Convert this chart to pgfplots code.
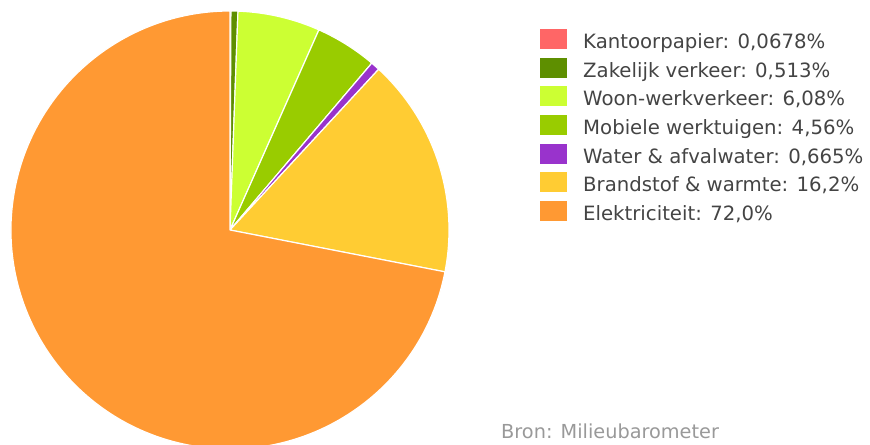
\documentclass[border=0pt]{standalone}
\usepackage{pgfplots}
\usepackage{pgfplotstable}
\pgfplotsset{compat=1.18}
\usepackage{fontspec}
\setmainfont{DejaVu Sans}

\definecolor{c0}{HTML}{FF6666}
\definecolor{c1}{HTML}{5E8F00}
\definecolor{c2}{HTML}{CCFF33}
\definecolor{c3}{HTML}{99CC00}
\definecolor{c4}{HTML}{9933CC}
\definecolor{c5}{HTML}{FFCC33}
\definecolor{c6}{HTML}{FF9933}
\definecolor{txt}{HTML}{444444}
\definecolor{src}{HTML}{999999}

\pgfplotstableread[col sep=semicolon]{
label;value;shown
Kantoorpapier;0.0678;0,0678\%
Zakelijk verkeer;0.513;0,513\%
Woon-werkverkeer;6.08;6,08\%
Mobiele werktuigen;4.56;4,56\%
Water \& afvalwater;0.665;0,665\%
Brandstof \& warmte;16.2;16,2\%
Elektriciteit;72.0;72,0\%
}\piedata

\begin{document}
\begin{tikzpicture}
% totals and angles from the table
\xdef\total{0}
\foreach \i in {0,...,6} {
  \pgfplotstablegetelem{\i}{value}\of\piedata
  \pgfmathsetmacro\tmp{\total+\pgfplotsretval}
  \xdef\total{\tmp}
}
\xdef\cum{0}
\foreach \i in {0,...,6} {
  \pgfplotstablegetelem{\i}{value}\of\piedata
  \pgfmathsetmacro\s{90-360*(\cum/\total)}
  \pgfmathsetmacro\newcum{\cum+\pgfplotsretval}
  \pgfmathsetmacro\e{90-360*(\newcum/\total)}
  \expandafter\xdef\csname sA\i\endcsname{\s}
  \expandafter\xdef\csname eA\i\endcsname{\e}
  \xdef\cum{\newcum}
  \pgfplotstablegetelem{\i}{label}\of\piedata
  \global\expandafter\let\csname lab\i\endcsname\pgfplotsretval
  \pgfplotstablegetelem{\i}{shown}\of\piedata
  \global\expandafter\let\csname shw\i\endcsname\pgfplotsretval
}
\begin{axis}[
  hide axis,
  x=1bp, y=1bp,
  xmin=0, xmax=870, ymin=0, ymax=445,
  enlargelimits=false,
  clip=true,
]
\pgfplotsinvokeforeach{0,...,6}{
  \path[fill=c#1, draw=white, line width=1.2bp, line join=round]
    (axis cs:230,215) -- ++(\csname sA#1\endcsname:219bp)
    arc[start angle=\csname sA#1\endcsname, end angle=\csname eA#1\endcsname, radius=219bp] -- cycle;
}
\pgfplotsinvokeforeach{0,...,6}{
  \fill[c#1] (axis cs:540,{445-29-28.7*#1}) rectangle (axis cs:567,{445-49-28.7*#1});
  \node[anchor=base west, inner sep=0pt, text=txt, font=\fontsize{19.7bp}{24bp}\selectfont]
    at (axis cs:583,{445-48.3-28.7*#1}) {\csname lab#1\endcsname: \csname shw#1\endcsname};
}
\node[anchor=base west, inner sep=0pt, text=src, font=\fontsize{19.3bp}{24bp}\selectfont]
  at (axis cs:501,7) {Bron: Milieubarometer};
\end{axis}
\pgfresetboundingbox
\path (0,0) rectangle (870bp,445bp);
\end{tikzpicture}
\end{document}
